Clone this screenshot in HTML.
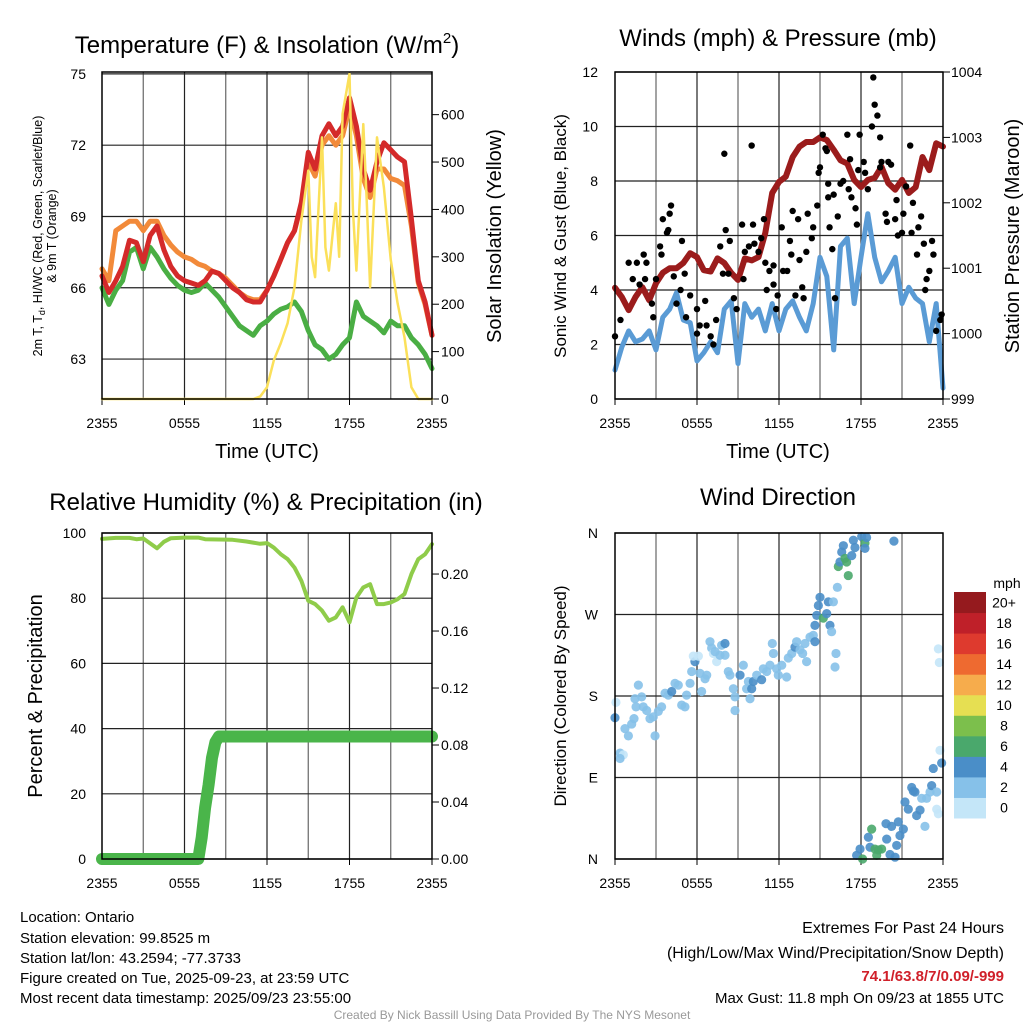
<!DOCTYPE html>
<html><head><meta charset="utf-8">
<style>
html,body{margin:0;padding:0;background:#fff;}
svg{display:block;font-family:"Liberation Sans",sans-serif;}
</style></head>
<body>
<svg id="chart" width="1024" height="1024" viewBox="0 0 1024 1024" xmlns="http://www.w3.org/2000/svg">
<g font-size="24" text-anchor="middle" fill="#000">
<text x="267" y="53">Temperature (F) &amp; Insolation (W/m<tspan font-size="15" dy="-10">2</tspan><tspan dy="10">)</tspan></text>
<text x="778" y="46">Winds (mph) &amp; Pressure (mb)</text>
<text x="266" y="510">Relative Humidity (%) &amp; Precipitation (in)</text>
<text x="778" y="505">Wind Direction</text>
</g>
<g id="p1"></g>
<g id="p2"></g>
<g id="p3"></g>
<g id="p4"></g>
<g fill="#000" text-anchor="middle">
<text x="267" y="458" font-size="20">Time (UTC)</text>
<text x="778" y="458" font-size="20">Time (UTC)</text>
<text transform="translate(42,236) rotate(-90)" font-size="12.5">2m T, T<tspan font-size="9" dy="3">d</tspan><tspan dy="-3">, HI/WC (Red, Green, Scarlet/Blue)</tspan></text>
<text transform="translate(56,236) rotate(-90)" font-size="12.5">&amp; 9m T (Orange)</text>
<text transform="translate(501,236) rotate(-90)" font-size="20">Solar Insolation (Yellow)</text>
<text transform="translate(566,236) rotate(-90)" font-size="17">Sonic Wind &amp; Gust (Blue, Black)</text>
<text transform="translate(1019,236) rotate(-90)" font-size="20">Station Pressure (Maroon)</text>
<text transform="translate(42,696) rotate(-90)" font-size="20">Percent &amp; Precipitation</text>
<text transform="translate(566,696) rotate(-90)" font-size="17">Direction (Colored By Speed)</text>
</g>
<g id="cbar"></g>
<g font-size="15" fill="#000">
<text x="20" y="922">Location: Ontario</text>
<text x="20" y="943">Station elevation: 99.8525 m</text>
<text x="20" y="963">Station lat/lon: 43.2594; -77.3733</text>
<text x="20" y="983">Figure created on Tue, 2025-09-23, at 23:59 UTC</text>
<text x="20" y="1003">Most recent data timestamp: 2025/09/23 23:55:00</text>
</g>
<g font-size="15" fill="#000" text-anchor="end">
<text x="1004" y="933" font-size="16">Extremes For Past 24 Hours</text>
<text x="1004" y="958" font-size="16">(High/Low/Max Wind/Precipitation/Snow Depth)</text>
<text x="1004" y="981" font-weight="bold" fill="#d0202a">74.1/63.8/7/0.09/-999</text>
<text x="1004" y="1003">Max Gust: 11.8 mph On 09/23 at 1855 UTC</text>
</g>
<text x="512" y="1019" font-size="12" fill="#999" text-anchor="middle">Created By Nick Bassill Using Data Provided By The NYS Mesonet</text>
</svg>
<script>
// ---------- data ----------
const halfHours = [0,0.5,1,1.5,2,2.5,3,3.5,4,4.5,5,5.5,6,6.5,7,7.5,8,8.5,9,9.5,10,10.5,11,11.5,12,12.5,13,13.5,14,14.5,15,15.5,16,16.5,17,17.5,18,18.5,19,19.5,20,20.5,21,21.5,22,22.5,23,23.5,24];
const tempRed = [66.5,65.8,66.3,66.9,68.0,67.9,67.1,68.2,68.6,67.6,66.9,66.5,66.3,66.2,66.1,66.3,66.7,66.6,66.3,66.0,65.8,65.5,65.4,65.4,65.9,66.5,67.2,67.9,68.4,69.6,71.7,71.0,72.4,72.9,72.4,72.8,74.0,72.8,71.0,70.1,71.3,72.1,71.8,71.5,71.3,68.9,66.3,65.4,64.0];
const temp9m = [66.8,66.3,68.4,68.6,68.8,68.8,68.4,68.8,68.8,68.2,67.8,67.5,67.3,67.2,67.0,66.9,66.7,66.6,66.4,66.1,65.8,65.6,65.5,65.5,65.9,66.5,67.2,67.9,68.4,69.5,71.3,70.7,72.0,72.4,72.0,72.4,73.6,72.4,70.6,69.8,71.0,71.0,70.6,70.5,70.3,68.6,66.2,65.3,64.0];
const dewpoint = [66.0,65.3,65.9,66.3,67.5,67.7,66.8,67.7,67.3,66.8,66.4,66.1,65.9,65.8,65.9,66.2,65.9,65.6,65.2,64.8,64.4,64.2,64.0,64.4,64.6,64.9,65.1,65.2,65.4,65.0,64.2,63.6,63.4,63.0,63.2,63.6,63.9,65.4,64.8,64.6,64.4,64.1,64.6,64.4,64.4,63.9,63.6,63.2,62.6];
const solarHours = [0,11,11.5,12,12.5,13,13.5,14,14.5,15,15.25,15.5,16,16.25,16.5,17,17.25,17.5,18,18.25,18.5,19,19.25,19.5,20,20.5,21,21.5,22,22.5,23,24];
const solar = [0,0,5,25,82,118,160,236,377,482,300,257,552,320,271,413,300,602,686,400,271,580,420,236,552,446,293,202,130,25,0,0];
const windSpeed = [1.06,1.9,2.5,2.1,2.2,2.5,1.8,3.0,3.3,3.9,2.9,2.8,1.4,1.7,2.1,1.7,3.3,3.6,1.3,3.5,3.0,3.3,2.5,3.5,2.5,3.3,3.6,3.0,2.5,3.5,5.2,4.5,1.8,5.6,5.9,3.5,5.2,6.8,5.2,4.3,4.7,5.2,3.5,4.1,3.7,3.5,2.1,3.5,0.4];
const pressure = [1000.70,1000.56,1000.36,1000.56,1000.71,1000.51,1000.77,1000.93,1001.00,1001.00,1001.08,1001.23,1001.17,1000.97,1000.95,1001.15,1001.08,1000.93,1000.82,1001.15,1001.12,1001.17,1001.54,1002.15,1002.32,1002.40,1002.70,1002.86,1002.93,1002.93,1003.00,1002.96,1002.81,1002.65,1002.60,1002.35,1002.24,1002.35,1002.38,1002.55,1002.30,1002.20,1002.35,1002.15,1002.24,1002.70,1002.50,1002.91,1002.86];
const gustHours = [0,0.4,1.0,1.3,1.6,2.1,2.3,1.8,2.2,2.7,2.8,3.0,3.3,3.5,3.8,4.0,4.1,3.9,3.4,4.3,4.5,4.8,4.9,5.1,5.2,5.5,6.0,6.0,6.2,6.6,6.7,7.0,7.2,7.4,7.7,7.9,8.0,8.1,8.4,8.3,8.7,8.9,9.3,9.5,9.4,9.8,10.0,10.1,10.2,10.5,10.7,10.9,11.0,11.1,11.3,11.6,11.6,11.8,11.9,12.2,12.3,12.6,12.8,12.9,13.0,13.2,13.4,13.5,13.7,13.8,14.0,14.1,14.4,14.5,14.8,14.9,15.0,15.2,15.4,15.5,15.6,15.6,15.7,15.9,16.0,16.1,16.3,16.5,16.7,17.0,17.1,17.2,17.3,17.6,17.7,17.8,17.9,18.2,18.3,18.5,18.8,18.9,19.0,19.2,19.4,19.4,19.5,19.8,19.9,20.0,20.2,20.5,20.6,20.7,21.0,21.1,21.3,21.6,21.7,21.8,22.1,22.2,22.4,22.6,22.7,22.8,23.0,23.2,23.3,23.5,23.8,23.9];
const gustSpeed = [2.3,2.9,5.0,4.4,5.0,5.3,5.0,4.2,4.4,3.5,3.0,4.4,5.6,6.6,6.1,6.8,7.1,6.2,5.3,4.5,3.5,4.0,5.8,4.6,3.0,3.8,3.3,2.4,2.7,3.6,2.7,2.3,2.0,2.9,5.6,4.6,9.0,6.2,5.8,4.6,3.7,3.3,6.4,5.4,4.4,5.6,9.3,6.4,5.7,5.4,5.9,6.6,5.0,4.0,4.7,4.9,4.2,3.3,3.8,6.3,4.7,4.7,5.8,5.3,6.9,3.8,6.6,5.1,4.1,3.7,5.4,6.8,5.9,6.3,7.1,8.3,8.5,9.7,9.2,9.1,7.9,7.4,6.3,5.5,7.5,3.7,6.7,7.9,8.0,9.7,7.7,8.8,7.4,7.0,6.4,8.4,9.7,8.7,8.3,7.7,10.0,11.8,10.8,10.4,9.6,8.5,8.7,6.8,6.5,8.7,8.6,6.6,7.3,6.0,6.1,6.8,7.8,9.3,6.1,7.2,5.3,6.3,6.7,5.7,4.0,4.4,4.7,5.8,5.3,2.5,2.9,3.1];
const rhHours = [0,1,2,2.5,3,4,4.5,5,6,7,7.5,8.5,9.5,10.5,11.5,12,12.5,13,13.5,14,14.5,15,15.5,16,16.5,17,17.5,18,18.5,19,19.5,20,20.5,21,21.5,22,22.5,23,23.5,24];
const rh = [98.2,98.5,98.5,98.1,98.3,95.3,97.3,98.4,98.6,98.6,98.1,98.0,97.9,97.4,96.7,96.9,95.5,93.5,92.0,89.4,85.3,79.2,78.2,76.2,73.1,74.1,77.2,72.6,80.2,83.3,84.3,78.2,78.2,78.7,79.7,81.3,87.4,92.0,93.5,96.6];
const precipHours = [0,7.0,7.25,7.5,7.75,8.0,8.25,8.5,24];
const precip = [0,0,0.015,0.036,0.052,0.071,0.082,0.086,0.086];
const dirHours = [0,0.07,0.37,0.61,0.37,0.73,0.98,1.22,1.39,1.54,1.71,1.46,1.95,2.07,2.32,2.56,2.80,2.93,3.17,3.41,3.66,3.90,4.15,4.39,4.63,4.88,5.12,5.24,5.49,5.61,5.85,5.73,6.10,6.22,6.34,6.59,6.71,6.95,7.07,7.20,7.32,7.44,7.68,7.80,8.05,8.05,8.29,8.41,8.66,8.78,8.78,9.15,9.39,9.63,9.76,9.88,10.0,10.12,10.37,10.73,10.85,11.10,11.34,11.59,11.51,11.83,11.95,12.20,12.56,12.68,12.93,13.17,13.29,13.54,13.73,13.90,14.02,14.27,14.51,14.63,14.63,14.76,14.88,15.0,15.24,15.49,15.61,15.73,15.85,15.98,16.17,16.10,16.27,16.34,16.46,16.59,16.71,16.83,16.95,17.07,17.32,17.44,17.56,18.05,18.29,18.41,18.29,20.41,23.66,23.73,17.68,17.93,18.12,18.54,18.78,18.66,19.02,19.27,19.51,19.15,19.88,19.83,20.12,20.24,20.49,20.61,20.73,20.85,21.10,21.22,21.46,21.71,21.83,21.95,22.07,22.32,22.44,22.68,22.80,23.05,23.17,23.29,23.54,23.54,23.66,23.78,23.90];
const dirDeg = [156,173,117,115,111,144,136,149,155,168,192,177,179,168,164,155,157,136,163,168,183,181,185,194,192,170,168,181,194,207,218,224,224,205,185,199,203,240,233,227,229,218,225,236,238,225,207,203,188,179,164,203,214,188,196,177,188,196,203,198,210,207,214,227,238,210,203,214,201,222,227,234,240,231,227,238,218,245,247,240,258,269,280,289,266,271,284,258,251,284,227,212,300,323,328,339,346,332,328,313,335,352,344,356,349,355,343,351,232,217,4,11,0,24,33,13,11,10,11,4,22,39,5,36,2,15,41,26,33,63,55,79,75,74,48,54,67,36,67,74,81,100,74,55,50,120,106];
const dirSpeed = [4,0,2,0,2,2,2,2,2,2,2,2,2,2,2,2,2,2,2,2,2,2,4,2,2,2,2,2,2,2,4,0,0,2,2,2,2,2,2,0,2,0,2,2,4,2,2,2,2,2,2,4,2,2,2,2,4,4,2,4,2,2,2,2,2,2,2,2,2,2,2,4,2,2,2,2,2,2,2,4,4,4,4,4,6,4,4,4,2,2,2,2,2,6,4,4,4,6,6,6,4,4,4,4,6,4,4,4,0,0,4,4,6,4,6,4,6,6,6,6,4,4,4,4,4,4,4,4,4,4,4,4,4,4,4,4,2,2,2,2,4,4,2,0,0,0,4];
const hourTickValues = [0,6,12,18,24];
const hourTickLabels = ["2355","0555","1155","1755","2355"];
const tempTicks = [63,66,69,72,75];
const solarTicks = [0,100,200,300,400,500,600];
const windTicks = [0,2,4,6,8,10,12];
const pressTicks = [999,1000,1001,1002,1003,1004];
const rhTicks = [0,20,40,60,80,100];
const precipTicks = [0,0.04,0.08,0.12,0.16,0.20];
const dirTicks = [0,90,180,270,360];
const dirTickLabels = ["N","E","S","W","N"];
const cbarLabels = ["0","2","4","6","8","10","12","14","16","18","20+"];
const cbarColors = ["#c4e6f8","#86c1e9","#4a8ec8","#4aa86c","#7cbf4c","#e6df52","#f6ac4c","#ee6a30","#de3a2e","#bf2029","#951a1e"];

// ---------- helpers ----------
const NS="http://www.w3.org/2000/svg";
function mk(parent,tag,attrs,text){const e=document.createElementNS(NS,tag);for(const k in attrs)e.setAttribute(k,attrs[k]);if(text!==undefined)e.textContent=text;parent.appendChild(e);return e;}
function lin(d0,d1,r0,r1){return v=>r0+(v-d0)/(d1-d0)*(r1-r0);}
function fmt2(v){return v.toFixed(2);}

function frame(g,L,R,T,B,xs){
  // vertical grid every 3h
  for(let h=3;h<24;h+=3){const x=xs(h);const ln=mk(g,'line',{x1:x,x2:x,y1:T,y2:B,stroke:(h%6===0)?'#222':'#666','stroke-width':1.2});
    
    }
  hourTickValues.forEach((h,i)=>{const x=xs(h);
    mk(g,'line',{x1:x,x2:x,y1:B,y2:B+6,stroke:'#000'});
    const t=mk(g,'text',{x:x,y:B+29,'font-size':14,'text-anchor':'middle'},hourTickLabels[i]);
    
    });
}
function hgrid(g,L,R,ys,ticks,labels,side,lx){
  ticks.forEach((v,i)=>{const y=ys(v);
    const ln=mk(g,'line',{x1:L,x2:R,y1:y,y2:y,stroke:'#222','stroke-width':1.2});
    
    
    const t=mk(g,'text',{x:lx,y:y+5,'font-size':14,'text-anchor':side},labels[i]);
    
    });
}
function rightTicks(g,R,ys,ticks,labels,lx){
  ticks.forEach((v,i)=>{const y=ys(v);
    mk(g,'line',{x1:R,x2:R+7,y1:y,y2:y,stroke:'#000'});
    const t=mk(g,'text',{x:lx,y:y+5,'font-size':14,'text-anchor':'start'},labels[i]);
    
    });
}
function path(g,xsArr,ysArr,xs,ys,attrs,name){
  let d='';for(let i=0;i<xsArr.length;i++){d+=(i?'L':'M')+xs(xsArr[i]).toFixed(1)+','+ys(ysArr[i]).toFixed(1);}
  const p=mk(g,'path',Object.assign({d:d,fill:'none','stroke-linejoin':'round','stroke-linecap':'round'},attrs));
  
  
  return p;
}
function box(g,L,R,T,B){const r=mk(g,'rect',{x:L,y:T,width:R-L,height:B-T,fill:'none',stroke:'#000','stroke-width':1.5});
  
  }

// ---------- panel 1 ----------
(function(){
  const g=document.getElementById('p1');const L=102,R=432,T=72,B=399;
  const xs=lin(0,24,L,R),yT=lin(61.32,75.08,B,T),yS=lin(0,690,B,T);
  frame(g,L,R,T,B,xs);
  hgrid(g,L,R,yT,tempTicks,tempTicks.map(String),'end',86);
  rightTicks(g,R,yS,solarTicks,solarTicks.map(String),441);
  path(g,halfHours,temp9m,xs,yT,{stroke:'#f28a3a','stroke-width':5},'9m-temperature-line');
  path(g,halfHours,dewpoint,xs,yT,{stroke:'#4aae44','stroke-width':5},'dewpoint-line');
  path(g,halfHours,tempRed,xs,yT,{stroke:'#d42a2a','stroke-width':5},'2m-temperature-line');
  path(g,solarHours,solar,xs,yS,{stroke:'#fbe05a','stroke-width':2.5},'solar-insolation-line');
  box(g,L,R,T,B);
})();
// ---------- panel 2 ----------
(function(){
  const g=document.getElementById('p2');const L=615,R=943,T=72,B=399;
  const xs=lin(0,24,L,R),yW=lin(0,12,B,T),yP=lin(999,1004,B,T);
  frame(g,L,R,T,B,xs);
  hgrid(g,L,R,yW,windTicks,windTicks.map(String),'end',598);
  rightTicks(g,R,yP,pressTicks,pressTicks.map(String),951);
  path(g,halfHours,windSpeed,xs,yW,{stroke:'#5a9bd5','stroke-width':5},'sonic-wind-line');
  path(g,halfHours,pressure,xs,yP,{stroke:'#9b1c1c','stroke-width':6},'pressure-line');
  gustHours.forEach((h,i)=>{const c=mk(g,'circle',{cx:xs(h),cy:yW(gustSpeed[i]),r:3.2,fill:'#000'});
    
    });
  box(g,L,R,T,B);
})();
// ---------- panel 3 ----------
(function(){
  const g=document.getElementById('p3');const L=102,R=432,T=533,B=859;
  const xs=lin(0,24,L,R),yR=lin(0,100,B,T),yP=lin(0,0.2288,B,T);
  frame(g,L,R,T,B,xs);
  hgrid(g,L,R,yR,rhTicks,rhTicks.map(String),'end',86);
  rightTicks(g,R,yP,precipTicks,precipTicks.map(fmt2),441);
  path(g,rhHours,rh,xs,yR,{stroke:'#8fcc4a','stroke-width':4},'relative-humidity-line');
  path(g,precipHours,precip,xs,yP,{stroke:'#4ab54a','stroke-width':12},'precipitation-line');
  box(g,L,R,T,B);
})();
// ---------- panel 4 ----------
(function(){
  const g=document.getElementById('p4');const L=615,R=943,T=533,B=859;
  const xs=lin(0,24,L,R),yD=lin(0,360,B,T);
  frame(g,L,R,T,B,xs);
  hgrid(g,L,R,yD,dirTicks,dirTickLabels,'end',598);
  dirHours.forEach((h,i)=>{const c=mk(g,'circle',{cx:xs(h),cy:yD(dirDeg[i]),r:4.6,fill:cbarColors[dirSpeed[i]/2],'fill-opacity':0.9});
    
    });
  box(g,L,R,T,B);
})();
// ---------- colorbar ----------
(function(){
  const g=document.getElementById('cbar');const top=592,bot=818,x=954,w=32;const h=(bot-top)/cbarColors.length;
  cbarColors.forEach((c,i)=>{const r=mk(g,'rect',{x:x,y:bot-(i+1)*h,width:w,height:h+0.5,fill:c});
    
    
    const t=mk(g,'text',{x:1004,y:bot-(i+0.5)*h+5,'font-size':14,'text-anchor':'middle'},cbarLabels[i]);
    
    });
  const t=mk(g,'text',{x:1007,y:588,'font-size':14,'text-anchor':'middle'},'mph');
  
  
})();
</script>
</body></html>
